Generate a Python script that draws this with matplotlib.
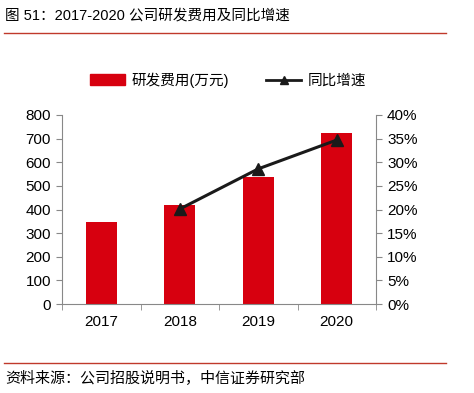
import matplotlib
matplotlib.use("Agg")
import matplotlib.pyplot as plt
from matplotlib.lines import Line2D
from matplotlib.patches import Patch

plt.rcParams['font.family'] = ['Liberation Sans', 'Noto Sans CJK SC', 'DejaVu Sans']

years = ['2017', '2018', '2019', '2020']
rd_expense = [347, 419, 537, 722]
growth_years = ['2018', '2019', '2020']
growth_pct = [20.1, 28.6, 34.7]

W, H = 474, 393
fig = plt.figure(figsize=(W/100, H/100), dpi=100)

def fx(px): return px / W
def fy(py): return 1 - py / H

ax = fig.add_axes([fx(62), fy(304), fx(376) - fx(62), fy(115) - fy(304)])
x = list(range(len(years)))
ax.bar(x, rd_expense, width=0.4, color='#D7000F', zorder=2)
ax.set_xlim(-0.5, len(years) - 0.5)
ax.set_ylim(0, 800)
ax.set_yticks(range(0, 801, 100))
ax.set_xticks(x)
ax.set_xticklabels(years)
ax.set_xticks([i + 0.5 for i in range(-1, len(years))], minor=True)
ax.tick_params(axis='x', which='major', length=0, pad=8, labelsize=11)
ax.tick_params(axis='x', which='minor', length=4, color='#888888', direction='out')
ax.tick_params(axis='y', length=4, color='#888888', labelsize=11, pad=4)
for s in ['top', 'right']:
    ax.spines[s].set_visible(False)
ax.spines['left'].set_color('#888888')
ax.spines['bottom'].set_color('#888888')

ax2 = ax.twinx()
gx = [years.index(y) for y in growth_years]
ax2.plot(gx, growth_pct, color='#1a1a1a', lw=2.2, marker='^', markersize=9, zorder=3)
ax2.set_ylim(0, 40)
ax2.set_yticks(range(0, 41, 5))
ax2.set_yticklabels([f'{v}%' for v in range(0, 41, 5)])
ax2.tick_params(axis='y', length=4, color='#888888', labelsize=11, pad=4)
for s in ['top', 'left', 'bottom']:
    ax2.spines[s].set_visible(False)
ax2.spines['right'].set_color('#888888')

handles = [Patch(color='#D7000F', label='研发费用(万元)'),
           Line2D([0], [0], color='#1a1a1a', lw=2, marker='^', markersize=6, label='同比增速')]
fig.legend(handles=handles, loc='center', bbox_to_anchor=(fx(228), fy(80)), ncol=2,
           frameon=False, fontsize=10.5, handlelength=2.4, columnspacing=2.6, handletextpad=0.4)

fig.text(fx(5), fy(16), '图 51：2017-2020 公司研发费用及同比增速', fontsize=10.5, va='center', ha='left')
fig.add_artist(Line2D([fx(4), fx(446)], [fy(33), fy(33)], color='#C0392B', lw=1))
fig.add_artist(Line2D([fx(4), fx(446)], [fy(363), fy(363)], color='#C0392B', lw=1))
fig.text(fx(5), fy(379), '资料来源：公司招股说明书，中信证券研究部', fontsize=10.8, va='center', ha='left')

fig.savefig('out.png', dpi=100)
